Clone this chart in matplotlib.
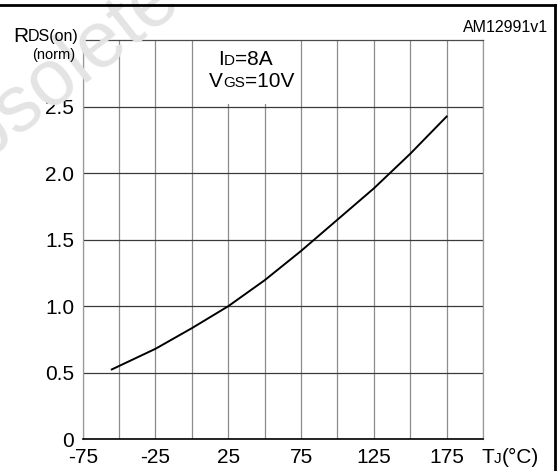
import matplotlib
matplotlib.use("Agg")
import matplotlib.pyplot as plt
from matplotlib.patches import Rectangle
from matplotlib.lines import Line2D
from matplotlib.text import Annotation

plt.rcParams['font.family'] = ['Liberation Sans', 'DejaVu Sans']
plt.rcParams['axes.unicode_minus'] = False

# Normalized on-resistance vs junction temperature
tj = [-55, -25, 0, 25, 50, 75, 100, 125, 150, 175]
rds_norm = [0.525, 0.68, 0.835, 1.0, 1.195, 1.415, 1.65, 1.885, 2.145, 2.425]

x_labeled = [-75, -25, 25, 75, 125, 175]
x_other = [-50, 0, 50, 100, 150, 200]
y_ticks = [0, 0.5, 1.0, 1.5, 2.0, 2.5]
y_labels = ["0", "0.5", "1.0", "1.5", "2.0", "2.5"]

W, H = 558, 471
fig = plt.figure(figsize=(W / 100, H / 100), dpi=100)


def px(x, y):
    # pixel from top-left -> figure fraction
    return x / W, 1 - y / H


# faint watermark behind everything
fig.text(*px(-66, 203), "Obsolete Product(s)", rotation=38, rotation_mode='anchor',
         ha='left', va='baseline', fontsize=57, color='#e4e4e4', zorder=0)

# outer frame (top and right only)
fig.add_artist(Line2D([0, 555 / W], [1 - 5 / H, 1 - 5 / H], color='black', lw=2,
                      transform=fig.transFigure))
fig.add_artist(Line2D([555 / W, 555 / W], [1 - 5 / H, 0], color='black', lw=2,
                      transform=fig.transFigure))

ax = fig.add_axes([82.7 / W, 1 - 439.3 / H, 400.3 / W, 399.3 / H])
ax.patch.set_alpha(0)
ax.set_xlim(-75, 200)
ax.set_ylim(0, 3)

ax.set_xticks(x_labeled)
ax.set_xticks(x_other, minor=True)
ax.set_yticks(y_ticks)
ax.set_yticklabels(y_labels)
ax.tick_params(axis='both', which='both', length=0, labelsize=15)
ax.tick_params(axis='x', pad=6.3)
ax.tick_params(axis='y', pad=6)

ax.set_axisbelow(True)
ax.grid(axis='x', which='both', color='#8c8c8c', lw=0.9)
ax.grid(axis='y', which='major', color='#3a3a3a', lw=0.9)

ax.spines['left'].set_color('#9a9a9a')
ax.spines['right'].set_color('#9a9a9a')
ax.spines['top'].set_color('#4a4a4a')
ax.spines['bottom'].set_color('black')
for s in ax.spines.values():
    s.set_linewidth(0.9)
ax.spines['bottom'].set_linewidth(1.2)

# white box behind the condition text hides the grid there
ax.add_patch(Rectangle((2, 2.52), 71, 0.47, facecolor='white', edgecolor='none', zorder=1))

ax.plot(tj, rds_norm, color='black', lw=1.4, zorder=3)


def label(x, y, parts):
    # text pieces of mixed size sharing one baseline
    txt, size = parts[0]
    last = fig.text(*px(x, y), txt, fontsize=size, ha='left', va='baseline')
    last_size = size
    for txt, size in parts[1:]:
        last = fig.add_artist(Annotation(
            txt, xy=(1, 0), xycoords=last, xytext=(0, 0.21 * (last_size - size)),
            textcoords='offset points', fontsize=size, ha='left', va='bottom'))
        last_size = size


label(13, 41.5, [("R", 15), ("DS(on)", 11.5)])
fig.text(*px(75, 59.5), "(norm)", fontsize=10.5, ha='right', va='baseline')

label(218, 65, [("I", 15), ("D", 11), ("=8A", 15)])
label(209, 87, [("V", 15), ("GS", 11), ("=10V", 15)])

label(481, 463, [("T", 15), ("J", 11), ("(°C)", 15)])

fig.text(*px(548, 32), "AM12991v1", fontsize=11.5, ha='right', va='baseline')

fig.savefig("out.png", dpi=100)
